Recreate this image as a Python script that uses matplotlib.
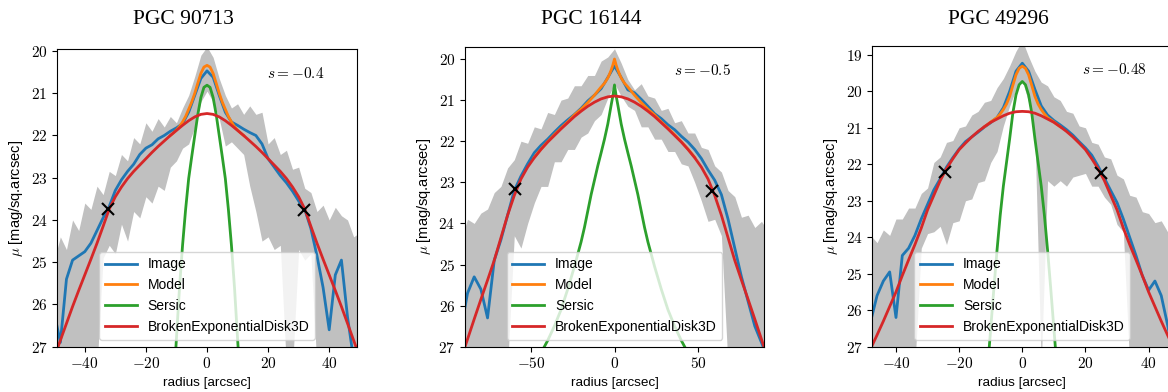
import numpy as np
import matplotlib
matplotlib.use("Agg")
import matplotlib.pyplot as plt
from matplotlib.ticker import FuncFormatter, MultipleLocator

plt.rcParams['mathtext.fontset'] = 'cm'
plt.rcParams['font.family'] = ['Liberation Sans', 'DejaVu Sans']

# ---- PGC 90713 ----
r1 = np.arange(-50, 51, 2)
img1 = [26.2, 26.9, 25.4, 24.95, 24.85, 24.75, 24.55, 24.25, 23.95, 23.68, 23.3, 23.05, 22.85,
        22.68, 22.45, 22.3, 22.22, 22.08, 22.0, 21.9, 21.82, 21.72, 21.45, 21.05, 20.65,
        20.47,
        20.62, 21.05, 21.45, 21.68, 21.76, 21.85, 21.93, 22.0, 22.2, 22.55, 22.75, 22.95, 23.12,
        23.32, 23.55, 23.75, 24.2, 24.85, 25.6, 26.6, 25.3, 24.95, 26.3, 27.3, 27.6]
hi1 = [24.95, 24.4, 24.7, 24.0, 24.25, 23.6, 23.75, 23.2, 23.4, 22.85, 22.95, 22.45, 22.6,
       22.05, 22.2, 21.7, 21.9, 21.6, 21.8, 21.55, 21.7, 21.35, 21.05, 20.6, 20.1,
       19.9,
       20.15, 20.65, 21.05, 21.35, 21.25, 21.5, 21.3, 21.5, 21.45, 22.2, 22.05, 22.45, 22.35,
       22.8, 22.75, 23.25, 23.35, 23.8, 23.65, 24.0, 23.7, 23.9, 24.0, 24.4, 24.3]
lo1 = [27.5, 27.5, 27.5, 27.5, 27.5, 27.5, 27.5, 27.5, 24.9, 24.6, 24.8, 24.1, 24.5,
       23.8, 23.95, 23.45, 23.6, 23.2, 23.3, 22.75, 22.6, 22.3, 22.2, 21.8, 21.2,
       20.95,
       21.2, 21.6, 22.25, 22.15, 22.3, 22.45, 23.2, 23.8, 24.5, 24.4, 24.7, 24.6, 27.5,
       27.5, 24.7, 24.95, 24.8, 27.5, 27.5, 27.5, 27.5, 27.5, 27.5, 27.5, 27.5]
disk1_r = np.arange(0, 51, 2)
disk1 = [21.48, 21.5, 21.56, 21.65, 21.76, 21.88, 22.0, 22.13, 22.26, 22.4, 22.55, 22.7, 22.85,
         23.02, 23.22, 23.45, 23.74, 24.15, 24.55, 24.93, 25.3, 25.67, 26.05, 26.45, 26.85, 27.25]
bulge1_r = np.arange(0, 13, 1)
sersic1 = [20.81, 20.86, 21.1, 21.5, 22.0, 22.5, 23.02, 23.75, 24.6, 25.6, 26.8, 28.0, 29.2]
model1 = [20.34, 20.38, 20.53, 20.76, 21.0, 21.21, 21.38, 21.55, 21.68, 21.79, 21.87, 21.94, 22.0]
brk1_r = [-32.3, 31.9]
brk1_mu = [23.73, 23.76]

# ---- PGC 16144 ----
r2 = np.arange(-92, 93, 4)
img2 = [26.6, 25.7, 25.3, 25.6, 26.3, 24.9, 24.4, 23.8, 23.2, 22.85, 22.55, 22.28, 22.1,
        21.95, 21.78, 21.62, 21.48, 21.35, 21.2, 21.02, 20.88, 20.72, 20.45,
        20.17,
        20.45, 20.75, 20.82, 20.98, 21.15, 21.33, 21.45, 21.6, 21.72, 21.88, 22.02, 22.2,
        22.42, 22.7, 22.95, 23.3, 23.9, 24.6, 25.3, 25.9, 26.5, 26.9, 27.3]
hi2 = [24.4, 23.9, 24.0, 23.75, 23.65, 23.25, 23.1, 22.65, 22.45, 22.0, 22.05, 21.65, 21.7,
       21.3, 21.35, 21.0, 20.95, 20.65, 20.65, 20.4, 20.4, 20.05, 19.95,
       19.75,
       20.1, 20.5, 20.75, 20.6, 20.9, 20.95, 21.25, 21.2, 21.55, 21.5, 21.8, 21.8,
       22.15, 22.2, 22.6, 22.75, 23.2, 23.35, 23.85, 23.8, 24.1, 23.95, 24.2]
lo2 = [27.5, 27.5, 27.5, 27.5, 27.5, 27.5, 27.5, 27.5, 24.3, 24.6, 24.0, 23.5, 23.1,
       23.1, 22.5, 22.5, 22.2, 22.2, 21.9, 21.8, 21.5, 21.35, 20.95,
       20.6,
       20.9, 21.15, 21.25, 21.65, 21.65, 21.95, 21.95, 22.25, 22.25, 22.55, 22.6, 23.0,
       23.45, 23.95, 23.9, 24.3, 27.5, 27.5, 27.5, 27.5, 27.5, 27.5, 27.5]
disk2_r = np.arange(0, 93, 4)
disk2 = [20.9, 20.92, 20.97, 21.05, 21.15, 21.27, 21.4, 21.55, 21.7, 21.86, 22.02, 22.2,
         22.4, 22.63, 22.92, 23.32, 23.8, 24.35, 24.9, 25.38, 25.85, 26.33, 26.82, 27.3]
bulge2_r = [0, 1, 2, 3, 4, 6, 8, 10, 12, 14, 16, 18, 20, 24, 28, 32, 36, 40, 44, 48]
sersic2 = [20.63, 20.9, 21.12, 21.35, 21.58, 21.95, 22.28, 22.6, 22.95, 23.3, 23.7, 24.1,
           24.45, 25.05, 25.6, 26.1, 26.5, 26.85, 27.15, 27.45]
model2 = [20.0, 20.15, 20.27, 20.37, 20.46, 20.59, 20.68, 20.78, 20.88, 20.97, 21.06, 21.14,
          21.22, 21.36, 21.53, 21.68, 21.84, 22.01, 22.19, 22.39]
brk2_r = [-59.3, 58.5]
brk2_mu = [23.17, 23.2]

# ---- PGC 49296 ----
r3 = np.arange(-50, 51, 2)
img3 = [27.3, 26.3, 25.6, 25.2, 24.95, 26.2, 24.5, 24.3, 23.95, 23.5, 23.1, 22.7, 22.4,
        22.08, 21.82, 21.58, 21.38, 21.25, 21.12, 20.98, 20.86, 20.72, 20.45, 20.0, 19.45,
        19.23,
        19.45, 19.95, 20.4, 20.65, 20.8, 20.92, 21.05, 21.2, 21.38, 21.55, 21.75, 22.05, 22.38,
        22.72, 23.05, 23.5, 24.0, 24.5, 25.05, 25.45, 25.2, 25.6, 26.4, 27.3, 27.5]
hi3 = [24.3, 23.95, 24.15, 23.8, 23.95, 23.5, 23.5, 23.2, 23.2, 22.8, 22.65, 21.95, 21.8,
       21.4, 21.35, 21.0, 20.95, 20.65, 20.55, 20.3, 20.25, 19.9, 19.65, 19.3, 18.9,
       18.6,
       19.05, 19.45, 19.75, 19.85, 20.15, 20.25, 20.55, 20.6, 20.95, 21.0, 21.4, 21.45, 21.8,
       21.85, 22.3, 22.4, 22.85, 22.9, 23.3, 23.35, 23.6, 23.55, 23.85, 23.8, 24.0]
lo3 = [27.5, 27.5, 27.5, 27.5, 27.5, 27.5, 27.5, 27.5, 27.5, 24.3, 23.9, 23.85, 23.7,
       24.2, 23.6, 23.55, 23.0, 22.95, 22.5, 22.45, 21.95, 21.65, 20.95, 20.4, 19.95,
       19.7,
       20.3, 21.2, 27.5, 22.45, 22.6, 22.45, 22.6, 22.35, 22.3, 22.25, 22.6, 22.6, 22.9,
       23.1, 23.65, 23.85, 27.5, 27.5, 27.5, 27.5, 27.5, 27.5, 27.5, 27.5, 27.5]
disk3_r = np.arange(0, 51, 2)
disk3 = [20.55, 20.56, 20.6, 20.67, 20.76, 20.85, 20.97, 21.1, 21.25, 21.42, 21.6, 21.85, 22.12,
         22.45, 22.85, 23.25, 23.75, 24.2, 24.62, 25.05, 25.5, 25.9, 26.3, 26.68, 27.05, 27.45]
bulge3_r = np.arange(0, 13, 1)
sersic3 = [19.73, 19.82, 20.1, 20.6, 21.3, 21.95, 22.6, 23.4, 24.35, 25.4, 26.5, 27.6, 28.8]
model3 = [19.31, 19.37, 19.55, 19.84, 20.14, 20.35, 20.5, 20.62, 20.72, 20.78, 20.84, 20.91, 20.97]
brk3_r = [-24.6, 24.8]
brk3_mu = [22.22, 22.24]

names = ["PGC 90713", "PGC 16144", "PGC 49296"]
slopes = ["$s=-0.4$", "$s=-0.5$", "$s=-0.48$"]


def mirror(r_half, v_half):
    r_half = np.asarray(r_half, dtype=float)
    v_half = np.asarray(v_half, dtype=float)
    return (np.concatenate([-r_half[:0:-1], r_half]),
            np.concatenate([v_half[:0:-1], v_half]))


panels = [
    (r1, img1, hi1, lo1, disk1_r, disk1, bulge1_r, sersic1, model1, brk1_r, brk1_mu),
    (r2, img2, hi2, lo2, disk2_r, disk2, bulge2_r, sersic2, model2, brk2_r, brk2_mu),
    (r3, img3, hi3, lo3, disk3_r, disk3, bulge3_r, sersic3, model3, brk3_r, brk3_mu),
]

# axes boxes in pixels: left, top, width, height
boxes = [(57.3, 49.3, 299.4, 297.4), (465.0, 46.7, 299.0, 300.0), (872.3, 45.7, 300.0, 301.0)]
xlims = [49.0, 89.5, 47.5]
ytops = [19.96, 19.7, 18.75]
xsteps = [20, 50, 20]
title_x = [183.5, 591.0, 998.0]

W, H = 1168, 392
fig = plt.figure(figsize=(W / 100, H / 100), dpi=100)
fmt = FuncFormatter(lambda v, p: "$%d$" % round(v))

for i, p in enumerate(panels):
    r, img, hi, lo, dr, dv, br, sv, mv, kr, kmu = p
    left, top, w, h = boxes[i]
    ax = fig.add_axes([left / W, (H - top - h) / H, w / W, h / H])

    ax.fill_between(r, hi, lo, color="#c0c0c0", lw=0)
    l_img, = ax.plot(r, img, color="tab:blue", lw=2, label="Image")
    mr, mvv = mirror(br, mv)
    l_mod, = ax.plot(mr, mvv, color="tab:orange", lw=2, label="Model")
    sr, svv = mirror(br, sv)
    l_ser, = ax.plot(sr, svv, color="tab:green", lw=2, label="Sersic")
    drr, dvv = mirror(dr, dv)
    l_disk, = ax.plot(drr, dvv, color="tab:red", lw=2, label="BrokenExponentialDisk3D")
    ax.plot(kr, kmu, "x", color="black", ms=8, mew=1.5)

    ax.set_xlim(-xlims[i], xlims[i])
    ax.set_ylim(27, ytops[i])
    ax.xaxis.set_major_locator(MultipleLocator(xsteps[i]))
    ax.yaxis.set_major_locator(MultipleLocator(1))
    ax.xaxis.set_major_formatter(fmt)
    ax.yaxis.set_major_formatter(fmt)
    ax.tick_params(labelsize=11)
    ax.set_xlabel("radius [arcsec]", fontsize=9.7)
    ax.set_ylabel(r"$\mu$ [mag/sq.arcsec]", fontsize=10.5)
    ax.text(0.70, 0.92, slopes[i], transform=ax.transAxes, fontsize=11, va="center")
    ax.legend(handles=[l_img, l_mod, l_ser, l_disk], loc="lower center",
              fontsize=10, handlelength=2.3)

    fig.text(title_x[i] / W, 1 - 20 / H, names[i], ha="center", va="center",
             fontsize=15.5, family="Liberation Serif")

fig.savefig("out.png", dpi=100)
